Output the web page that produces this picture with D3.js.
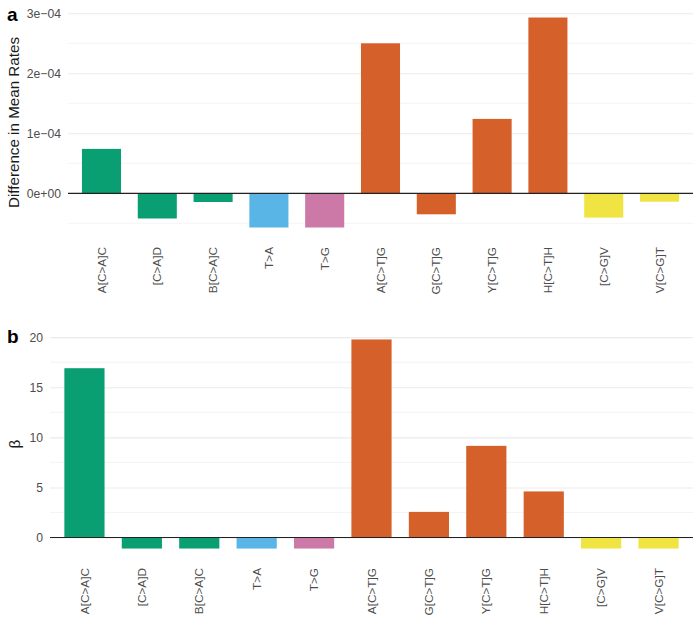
<!DOCTYPE html>
<html>
<head>
<meta charset="utf-8">
<script src="https://cdn.jsdelivr.net/npm/d3@7"></script>
<style>
  html, body { margin: 0; padding: 0; background: #ffffff; }
  svg { display: block; font-family: "Liberation Sans", Arial, sans-serif; }
</style>
</head>
<body>
<svg id="chart" width="700" height="628"></svg>
<script>
// ---- data ----
const categories = ["A[C>A]C", "[C>A]D", "B[C>A]C", "T>A", "T>G", "A[C>T]G", "G[C>T]G", "Y[C>T]G", "H[C>T]H", "[C>G]V", "V[C>G]T"];
const groups = ["C>A", "C>A", "C>A", "T>A", "T>G", "C>T", "C>T", "C>T", "C>T", "C>G", "C>G"];
const diffMeanRates = [7.4e-5, -4.2e-5, -1.45e-5, -5.7e-5, -5.7e-5, 2.5e-4, -3.5e-5, 1.24e-4, 2.93e-4, -4.05e-5, -1.4e-5];
const betaValues = [16.9, -1.1, -1.1, -1.1, -1.1, 19.77, 2.56, 9.15, 4.6, -1.1, -1.1];
const groupNames = ["C>A", "T>A", "T>G", "C>T", "C>G"];
const groupColors = ["#0A9E73", "#58B5E6", "#CC79A7", "#D5602A", "#F0E442"];
const ticksA = [0, 1e-4, 2e-4, 3e-4];
const ticksB = [0, 5, 10, 15, 20];

const color = d3.scaleOrdinal().domain(groupNames).range(groupColors);
const svg = d3.select("#chart");

function sciFormat(d) {
  if (d === 0) return "0e+00";
  const exp = Math.floor(Math.log10(Math.abs(d)) + 1e-9);
  const mant = Math.round(d / Math.pow(10, exp));
  const sign = exp < 0 ? "\u2212" : "+";
  return mant + "e" + sign + String(Math.abs(exp)).padStart(2, "0");
}

function panel(opts) {
  const { values, left, right, top, bottom, ticks, minorStep, fmt, title, letter, titleX, letterY } = opts;
  const g = svg.append("g");
  const lo = d3.min(values), hi = d3.max(values);
  const pad = (hi - lo) * 0.05;
  const y = d3.scaleLinear().domain([lo - pad, hi + pad]).range([bottom, top]);
  const x = d3.scaleBand().domain(categories).range([left, right]).paddingInner(0.3).paddingOuter(0.25);

  // minor grid
  const minor = d3.range(Math.ceil((lo - pad) / minorStep) * minorStep, hi + pad, minorStep)
    .filter(v => !ticks.some(t => Math.abs(t - v) < minorStep * 1e-3));
  g.selectAll("line.minor").data(minor).join("line")
    .attr("x1", left).attr("x2", right)
    .attr("y1", d => y(d)).attr("y2", d => y(d))
    .attr("stroke", "#ebebeb").attr("stroke-width", 0.6);

  // y axis (major grid + labels)
  const axis = d3.axisLeft(y).tickValues(ticks).tickFormat(fmt).tickSize(-(right - left)).tickPadding(7);
  const ag = g.append("g").attr("transform", `translate(${left},0)`).call(axis);
  ag.select(".domain").remove();
  ag.selectAll(".tick line").attr("stroke", "#ebebeb").attr("stroke-width", 1.1);
  ag.selectAll(".tick text").attr("fill", "#4d4d4d").style("font-size", "12.2px")
    .style("font-family", "'Liberation Sans', Arial, sans-serif");

  // bars
  g.selectAll("rect.bar").data(values).join("rect")
    .attr("x", (d, i) => x(categories[i]))
    .attr("width", x.bandwidth())
    .attr("y", d => y(Math.max(0, d)))
    .attr("height", d => Math.abs(y(d) - y(0)))
    .attr("fill", (d, i) => color(groups[i]));

  // zero line
  g.append("line").attr("x1", left).attr("x2", right)
    .attr("y1", y(0)).attr("y2", y(0))
    .attr("stroke", "#222").attr("stroke-width", 1.2);

  // x labels
  const xa = d3.axisBottom(x).tickSize(0).tickPadding(0);
  const xg = g.append("g").attr("transform", `translate(0,${bottom})`).call(xa);
  xg.select(".domain").remove();
  xg.selectAll(".tick text")
    .attr("transform", "rotate(-90)")
    .attr("x", -9).attr("y", 0).attr("dy", "0.35em")
    .attr("text-anchor", "end")
    .attr("fill", "#4d4d4d").style("font-size", "11.8px")
    .style("font-family", "'Liberation Sans', Arial, sans-serif");

  // y title
  g.append("text")
    .attr("transform", `translate(${titleX},${(top + bottom) / 2}) rotate(-90)`)
    .attr("text-anchor", "middle").attr("dy", "0.35em")
    .attr("fill", "#1a1a1a").style("font-size", "15.2px")
    .text(title);

  // panel letter
  g.append("text").attr("x", 7).attr("y", letterY)
    .attr("fill", "#000").style("font-size", "19px").style("font-weight", "bold")
    .text(letter);
}

panel({ values: diffMeanRates, left: 68, right: 693, top: 7, bottom: 238, ticks: ticksA, minorStep: 5e-5,
        fmt: sciFormat, title: "Difference in Mean Rates", letter: "a", titleX: 14, letterY: 21 });
panel({ values: betaValues, left: 50, right: 693, top: 329, bottom: 559, ticks: ticksB, minorStep: 2.5,
        fmt: d3.format("d"), title: "\u03B2", letter: "b", titleX: 15, letterY: 343 });
</script>
</body>
</html>
